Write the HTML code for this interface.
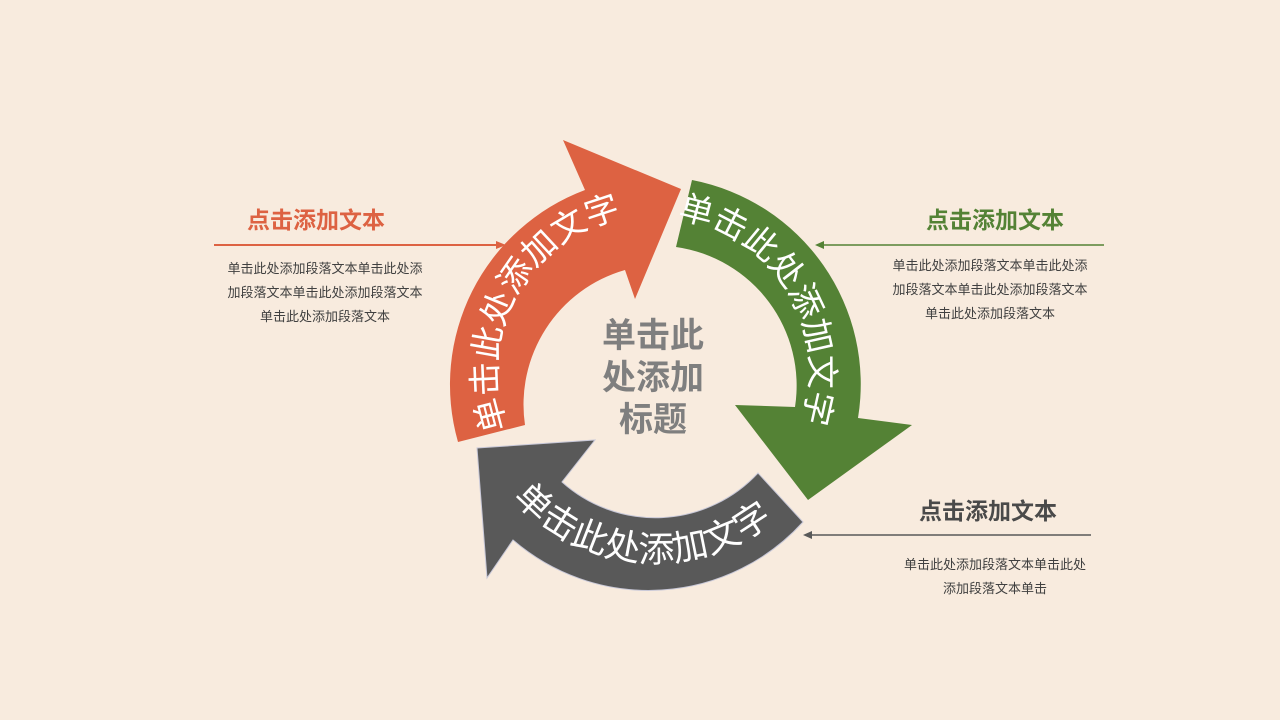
<!DOCTYPE html>
<html><head><meta charset="utf-8"><style>
html,body{margin:0;padding:0;background:#f8ebde;}
body{width:1280px;height:720px;overflow:hidden;}
svg{display:block;font-family:"Liberation Sans","Noto Sans CJK SC",sans-serif;}
</style></head><body>
<svg width="1280" height="720" viewBox="0 0 1280 720">
<defs>
<path id="po" d="M 504.7 420.8 A 158 158 0 0 1 614.1 219.4"/>
<path id="pg" d="M 687.2 220.4 A 155 155 0 0 1 804.7 412.1"/>
<path id="pk" d="M 490.5 467 A 190 190 0 0 0 800.5 494.1"/>
</defs>
<line x1="214" y1="245" x2="500" y2="245" stroke="#dd6242" stroke-width="2"/>
<polygon points="506,245 496,241 496,249" fill="#dd6242"/>
<line x1="1104" y1="245" x2="822" y2="245" stroke="#548235" stroke-width="1.5"/>
<polygon points="815,245 824,241 824,249" fill="#548235"/>
<line x1="1091" y1="535" x2="810" y2="535" stroke="#595959" stroke-width="1.5"/>
<polygon points="803,535 812,531 812,539" fill="#595959"/>
<path d="M 458,442 A 208 208 0 0 1 585,190 L 563,140 L 681,189 L 635,299 L 625,270 A 140 140 0 0 0 525,425 Z" fill="#dd6242"/>
<path d="M 692,180 A 208 208 0 0 1 858,418 L 912,425 L 808,500 L 735,405 L 795,407 A 140 140 0 0 0 676,247 Z" fill="#548235"/>
<path d="M 803,522 A 208 208 0 0 1 513,540 L 487,578 L 477,448 L 595,440 L 562,482 A 140 140 0 0 0 758,473 Z" fill="#595959" stroke="#c8c8d8" stroke-width="1"/>
<text font-size="34" fill="#fff"><textPath href="#po" startOffset="50%" text-anchor="middle">单击此处添加文字</textPath></text>
<text font-size="34" fill="#fff"><textPath href="#pg" startOffset="50%" text-anchor="middle">单击此处添加文字</textPath></text>
<text font-size="36" fill="#fff"><textPath href="#pk" startOffset="50%" text-anchor="middle">单击此处添加文字</textPath></text>
<g font-size="34" font-weight="bold" fill="#7f7f7f" text-anchor="middle">
<text x="653" y="347">单击此</text>
<text x="653" y="389">处添加</text>
<text x="653" y="431">标题</text>
</g>
<g font-weight="bold" font-size="23" text-anchor="middle">
<text x="316" y="228" fill="#dd6242">点击添加文本</text>
<text x="995" y="228" fill="#548235">点击添加文本</text>
<text x="988" y="519" fill="#4a4a4a">点击添加文本</text>
</g>
<g font-size="13" fill="#404040" text-anchor="middle">
<text x="325" y="273">单击此处添加段落文本单击此处添</text>
<text x="325" y="297">加段落文本单击此处添加段落文本</text>
<text x="325" y="321">单击此处添加段落文本</text>
<text x="990" y="270">单击此处添加段落文本单击此处添</text>
<text x="990" y="294">加段落文本单击此处添加段落文本</text>
<text x="990" y="318">单击此处添加段落文本</text>
<text x="995" y="569">单击此处添加段落文本单击此处</text>
<text x="995" y="593">添加段落文本单击</text>
</g>
</svg>
</body></html>
